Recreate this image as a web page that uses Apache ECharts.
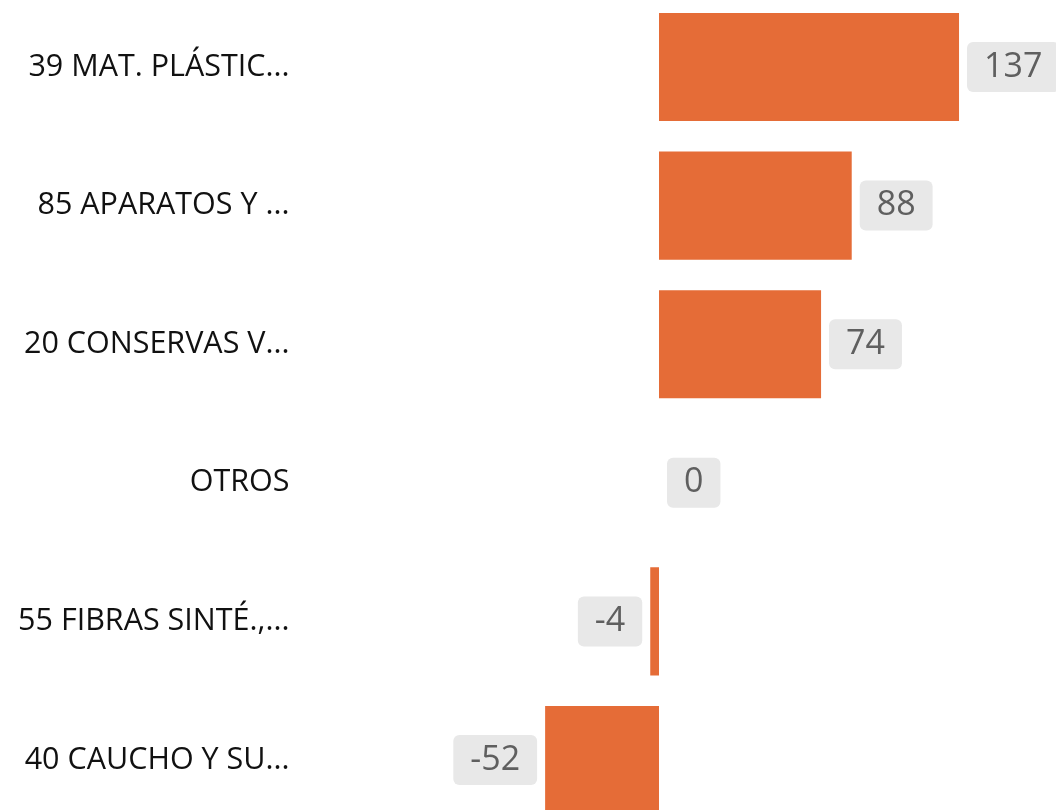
<!DOCTYPE html>
<html>
<head>
<meta charset="utf-8">
<script src="https://cdn.jsdelivr.net/npm/echarts@6/dist/echarts.min.js"></script>
<style>html,body{margin:0;padding:0;background:#fff;}#c{width:1056px;height:810px;}</style>
</head>
<body>
<div id="c"></div>
<script>
const categories = ['39 MAT. PLÁSTIC...', '85 APARATOS Y ...', '20 CONSERVAS V...', 'OTROS', '55 FIBRAS SINTÉ.,...', '40 CAUCHO Y SU...'];
const values = [137, 88, 74, 0, -4, -52];

const chart = echarts.init(document.getElementById('c'), null, {renderer: 'canvas'});
const data = values.map(v => ({
  value: v,
  label: {position: v < 0 ? 'left' : 'right'}
}));
chart.setOption({
  animation: false,
  grid: {left: 330.5, width: 766.5, top: -2.3, height: 831.6, containLabel: false, outerBoundsMode: 'none'},
  xAxis: {
    type: 'value', min: -150, max: 200,
    show: false
  },
  yAxis: {
    type: 'category', data: categories, inverse: true,
    axisLine: {show: false}, axisTick: {show: false}, splitLine: {show: false},
    axisLabel: {margin: 41, fontSize: 30.5, color: '#111', fontFamily: 'Open Sans'}
  },
  series: [{
    type: 'bar', data: data, barCategoryGap: '22%',
    itemStyle: {color: '#E56C37'},
    label: {
      show: true, distance: 8, fontSize: 34, lineHeight: 34,
      color: '#5f5f5f', fontFamily: 'Open Sans',
      backgroundColor: '#e8e8e8', borderRadius: 6, padding: [8, 17]
    }
  }]
});
</script>
</body>
</html>
